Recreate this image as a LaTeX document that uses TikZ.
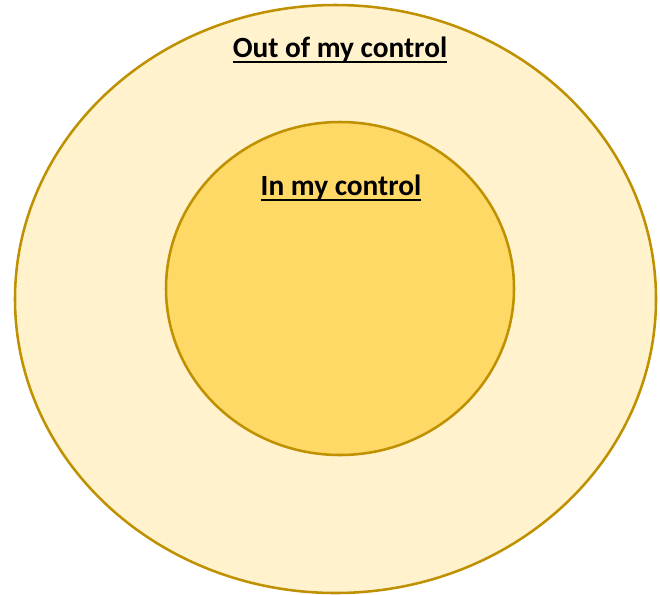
\documentclass[tikz,border=0pt]{standalone}
\usepackage{fontspec}
\setmainfont{Carlito}
\usepackage{tikz}
\usetikzlibrary{shapes.geometric}
\definecolor{ringline}{RGB}{191,144,0}
\definecolor{outerfill}{RGB}{255,242,204}
\definecolor{innerfill}{RGB}{255,217,102}
\newcommand\zoneul[1]{\setbox0\hbox{#1}\rlap{\rule[-3.6pt]{\wd0}{1.4pt}}\box0}
\tikzset{
  zone/.style={ellipse,draw=ringline,line width=1.9pt,inner sep=0pt},
  zonelabel/.style={font=\bfseries\fontsize{22}{24}\selectfont,inner sep=0pt}
}

\begin{document}
\begin{tikzpicture}[x=0.75pt,y=-0.75pt]
        \useasboundingbox (0,0) rectangle (660,594);
        \node[zone,fill=outerfill,minimum width=641*0.75pt,minimum height=588*0.75pt] (outer) at (335.5,299) {};
        \node[zone,fill=innerfill,minimum width=348*0.75pt,minimum height=333*0.75pt] (inner) at (340,288.5) {};
        \node[zonelabel] (outlabel) at (340,50) {\zoneul{Out of my control}};
        \node[zonelabel] (inlabel) at (341,188) {\zoneul{In my control}};
      \end{tikzpicture}
\end{document}
